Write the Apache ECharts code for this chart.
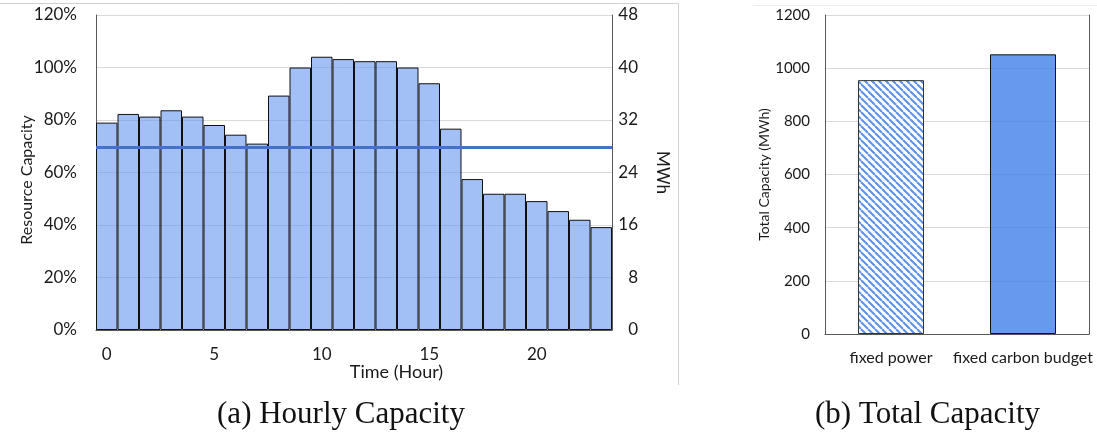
<!DOCTYPE html>
<html>
<head>
<meta charset="utf-8">
<script src="https://cdn.jsdelivr.net/npm/echarts@6/dist/echarts.min.js"></script>
<style>
html,body{margin:0;padding:0;background:#fff;}
#chart{width:1097px;height:435px;}
</style>
</head>
<body>
<div id="chart"></div>
<script>
// ---- data ----
const hours = ['0','1','2','3','4','5','6','7','8','9','10','11','12','13','14','15','16','17','18','19','20','21','22','23'];
const capacityPct = [79, 82.3, 81.3, 83.7, 81.3, 78.1, 74.4, 71, 89.3, 100, 104.1, 103.2, 102.4, 102.4, 100, 94, 76.7, 57.5, 51.9, 51.9, 49.1, 45.3, 42, 39.2];
const fixedPowerPct = 69.7;
const pctAxis = {min: 0, max: 120, interval: 20};
const mwhAxis = {min: 0, max: 48, interval: 8};
const totalCats = ['fixed power', 'fixed carbon budget'];
const totalValues = [955, 1052];
const totalAxis = {min: 0, max: 1200, interval: 200};
const captions = ['(a) Hourly Capacity', '(b) Total Capacity'];

// ---- hatch pattern ----
function hatch() {
  const s = 7;
  const c = document.createElement('canvas');
  c.width = s; c.height = s;
  const g = c.getContext('2d');
  g.fillStyle = '#ffffff';
  g.fillRect(0, 0, s, s);
  g.strokeStyle = '#5b8ff0';
  g.lineWidth = 2;
  for (let k = -1; k <= 1; k++) {
    g.beginPath();
    g.moveTo(k * s, 0);
    g.lineTo(k * s + s, s);
    g.stroke();
  }
  return c;
}

const FONT = 'Lato';
const TXT = '#1a1a1a';
const BOX = '#595959';
const GRID = '#d9d9d9';

const chart = echarts.init(document.getElementById('chart'), null, {renderer: 'canvas'});
chart.setOption({
  animation: false,
  textStyle: {fontFamily: FONT},
  grid: [
    {left: 96, right: 485, top: 15, bottom: 105},
    {left: 825, right: 8, top: 15, bottom: 101}
  ],
  xAxis: [
    {
      type: 'category', gridIndex: 0, data: hours, boundaryGap: true,
      axisLine: {show: true, lineStyle: {color: GRID, width: 1}},
      axisTick: {show: false},
      axisLabel: {interval: 4, fontFamily: FONT, fontSize: 17, color: TXT, margin: 16}
    },
    {
      type: 'category', gridIndex: 0, data: hours, position: 'top',
      axisLine: {show: true, lineStyle: {color: BOX, width: 1}},
      axisTick: {show: false}, axisLabel: {show: false}
    },
    {
      type: 'category', gridIndex: 1, data: totalCats, boundaryGap: true,
      axisLine: {show: true, lineStyle: {color: GRID, width: 1}},
      axisTick: {show: false},
      axisLabel: {interval: 0, fontFamily: FONT, fontSize: 16, color: TXT, margin: 16}
    },
    {
      type: 'category', gridIndex: 1, data: totalCats, position: 'top',
      axisLine: {show: true, lineStyle: {color: BOX, width: 1}},
      axisTick: {show: false}, axisLabel: {show: false}
    }
  ],
  yAxis: [
    {
      type: 'value', gridIndex: 0, position: 'left',
      min: pctAxis.min, max: pctAxis.max, interval: pctAxis.interval,
      axisLine: {show: true, lineStyle: {color: BOX, width: 1}},
      axisTick: {show: false},
      axisLabel: {formatter: '{value}%', fontFamily: FONT, fontSize: 17, color: TXT, margin: 19},
      splitLine: {show: true, lineStyle: {color: GRID, width: 1}}
    },
    {
      type: 'value', gridIndex: 0, position: 'right',
      min: mwhAxis.min, max: mwhAxis.max, interval: mwhAxis.interval,
      name: 'MWh', nameLocation: 'middle', nameGap: 42, nameRotate: -90,
      nameTextStyle: {fontFamily: FONT, fontSize: 17, color: TXT},
      axisLine: {show: true, lineStyle: {color: BOX, width: 1}},
      axisTick: {show: false},
      axisLabel: {fontFamily: FONT, fontSize: 17, color: TXT, margin: 26, align: 'right'},
      splitLine: {show: false}
    },
    {
      type: 'value', gridIndex: 1, position: 'left',
      min: totalAxis.min, max: totalAxis.max, interval: totalAxis.interval,
      name: 'Total Capacity (MWh)', nameLocation: 'middle', nameGap: 51,
      nameTextStyle: {fontFamily: FONT, fontSize: 14, color: TXT},
      axisLine: {show: true, lineStyle: {color: BOX, width: 1}},
      axisTick: {show: false},
      axisLabel: {formatter: (v) => String(v), fontFamily: FONT, fontSize: 15, color: TXT, margin: 15},
      splitLine: {show: true, lineStyle: {color: GRID, width: 1}}
    },
    {
      type: 'value', gridIndex: 1, position: 'right',
      min: totalAxis.min, max: totalAxis.max, interval: totalAxis.interval,
      axisLine: {show: true, lineStyle: {color: BOX, width: 1}},
      axisTick: {show: false}, axisLabel: {show: false}, splitLine: {show: false}
    }
  ],
  series: [
    {
      type: 'bar', xAxisIndex: 0, yAxisIndex: 0,
      data: capacityPct, barCategoryGap: '0%',
      itemStyle: {color: 'rgba(100,150,240,0.6)', borderColor: '#111', borderWidth: 1},
      markLine: {
        silent: true, symbol: ['none', 'none'], label: {show: false},
        lineStyle: {color: '#4472c4', width: 3, type: 'solid'},
        data: [{yAxis: fixedPowerPct}]
      },
      z: 2
    },
    {
      type: 'bar', xAxisIndex: 2, yAxisIndex: 2, barWidth: '50%',
      data: totalValues.map((v, i) => ({
        value: v,
        itemStyle: i === 0
          ? {color: {image: hatch(), repeat: 'repeat'}, borderColor: '#333', borderWidth: 1}
          : {color: 'rgba(60,125,235,0.78)', borderColor: '#111', borderWidth: 1}
      }))
    }
  ],
  graphic: [
    {type: 'line', shape: {x1: 0, y1: 3.5, x2: 678.5, y2: 3.5}, style: {stroke: '#d0d0d0', lineWidth: 1}},
    {type: 'line', shape: {x1: 678.5, y1: 3.5, x2: 678.5, y2: 385}, style: {stroke: '#d0d0d0', lineWidth: 1}},
    {type: 'line', shape: {x1: 753, y1: 5.5, x2: 1097, y2: 5.5}, style: {stroke: '#eeeeee', lineWidth: 1}},
    {type: 'text', x: 27, y: 180, rotation: Math.PI / 2, style: {text: 'Resource Capacity', font: '16px Lato', fill: TXT, textAlign: 'center', textVerticalAlign: 'middle'}},
    {type: 'text', x: 396.5, y: 372.5, style: {text: 'Time (Hour)', font: '18px Lato', fill: TXT, textAlign: 'center', textVerticalAlign: 'middle'}},
    {type: 'text', x: 341, y: 415, style: {text: captions[0], font: '31px "Liberation Serif"', fill: '#111', textAlign: 'center', textVerticalAlign: 'middle'}},
    {type: 'text', x: 927.5, y: 415, style: {text: captions[1], font: '31px "Liberation Serif"', fill: '#111', textAlign: 'center', textVerticalAlign: 'middle'}}
  ]
});
</script>
</body>
</html>
